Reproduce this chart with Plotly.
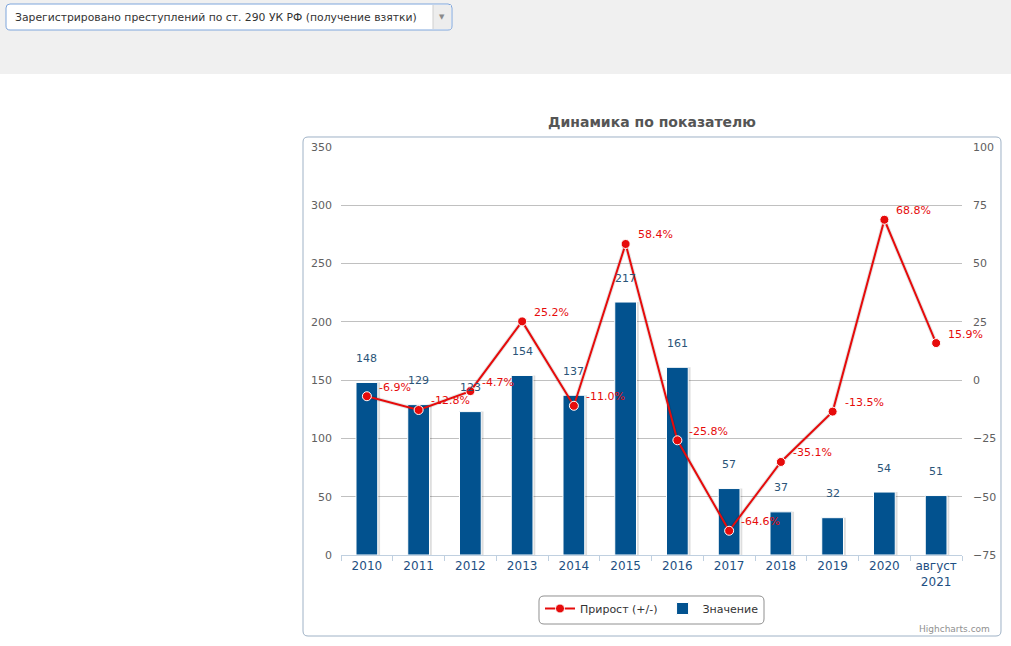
import plotly.graph_objects as go

# ---- data ----
categories = ["2010", "2011", "2012", "2013", "2014", "2015", "2016",
              "2017", "2018", "2019", "2020", "август<br>2021"]
values = [148, 129, 123, 154, 137, 217, 161, 57, 37, 32, 54, 51]
growth = [-6.9, -12.8, -4.7, 25.2, -11.0, 58.4, -25.8, -64.6, -35.1, -13.5, 68.8, 15.9]
left_ticks = [0, 50, 100, 150, 200, 250, 300, 350]
right_ticks = [-75, -50, -25, 0, 25, 50, 75, 100]

W, H = 1011, 646
L, R, T, B = 341, 962, 147, 555

FONT = "DejaVu Sans"
BAR_COLOR = "#02528f"
LINE_COLOR = "#e60b0b"


def px(x):
    return (x - L) / (R - L)


def py(y):
    return (B - y) / (B - T)


def rrect(x0, y0, x1, y1, r):
    pts = [
        ("M", (x0 + r, y0)), ("L", (x1 - r, y0)), ("Q", (x1, y0), (x1, y0 + r)),
        ("L", (x1, y1 - r)), ("Q", (x1, y1), (x1 - r, y1)), ("L", (x0 + r, y1)),
        ("Q", (x0, y1), (x0, y1 - r)), ("L", (x0, y0 + r)), ("Q", (x0, y0), (x0 + r, y0)),
    ]
    s = ""
    for p in pts:
        cmd = p[0]
        coords = " ".join(f"{px(a):.5f},{py(b):.5f}" for a, b in p[1:])
        s += f"{cmd} {coords} "
    return s + "Z"


fig = go.Figure()

BW = 0.42
# shadow of bars
fig.add_trace(go.Bar(
    x=categories, y=values, yaxis="y", width=BW, offset=-BW / 2 + 0.045,
    marker=dict(color="rgba(0,0,0,0.13)", line=dict(width=0)),
    showlegend=False, hoverinfo="skip",
))
fig.add_trace(go.Bar(
    x=categories, y=values, yaxis="y", width=BW, offset=-BW / 2,
    name="Значение", legendrank=2,
    marker=dict(color=BAR_COLOR, line=dict(color="white", width=1)),
))
# soft shadow of the line
fig.add_trace(go.Scatter(
    x=categories, y=growth, yaxis="y2", mode="lines",
    line=dict(color="rgba(0,0,0,0.10)", width=4),
    showlegend=False, hoverinfo="skip",
))
fig.add_trace(go.Scatter(
    x=categories, y=growth, yaxis="y2", mode="lines+markers",
    name="Прирост (+/-)", legendrank=1,
    line=dict(color=LINE_COLOR, width=2),
    marker=dict(color=LINE_COLOR, size=9, line=dict(color="white", width=1)),
))

annotations = []
for i, v in enumerate(values):
    annotations.append(dict(
        x=i, y=v, xref="x", yref="y", text=str(v), showarrow=False,
        yshift=24, yanchor="middle", xanchor="center",
        font=dict(family=FONT, size=11, color="#2b5478"),
    ))
for i, g in enumerate(growth):
    annotations.append(dict(
        x=i, y=g, xref="x", yref="y2", text=f"{g:.1f}%", showarrow=False,
        xshift=10, yshift=9, yanchor="middle", xanchor="left",
        font=dict(family=FONT, size=11, color=LINE_COLOR),
    ))

# page texts
annotations.append(dict(
    x=px(13), y=py(17), xref="paper", yref="paper", showarrow=False,
    text="Зарегистрировано преступлений по ст. 290 УК РФ (получение взятки)",
    xanchor="left", yanchor="middle", font=dict(family=FONT, size=10.8, color="#333333"),
))
annotations.append(dict(
    x=px(442), y=py(17), xref="paper", yref="paper", showarrow=False,
    text="▼", xanchor="center", yanchor="middle",
    font=dict(family=FONT, size=7, color="#8a8a8a"),
))
annotations.append(dict(
    x=px(992), y=py(629), xref="paper", yref="paper", showarrow=False,
    text="Highcharts.com", xanchor="right", yanchor="middle",
    font=dict(family=FONT, size=9, color="#909090"),
))

shapes = [
    dict(type="rect", xref="paper", yref="paper", x0=px(0), x1=px(W), y0=py(74), y1=py(0),
         fillcolor="#f0f0f0", line=dict(width=0), layer="below"),
    dict(type="path", xref="paper", yref="paper", path=rrect(303, 137, 1001, 636, 5),
         fillcolor="rgba(0,0,0,0)", line=dict(color="#9fb2c6", width=1), layer="below"),
    dict(type="path", xref="paper", yref="paper", path=rrect(6, 4, 452, 30, 4),
         fillcolor="white", line=dict(color="#7fa6dc", width=1), layer="below"),
    dict(type="rect", xref="paper", yref="paper", x0=px(433), x1=px(451), y0=py(29), y1=py(5),
         fillcolor="#ededed", line=dict(width=0), layer="below"),
    dict(type="line", xref="paper", yref="paper", x0=px(433), x1=px(433), y0=py(29), y1=py(5),
         line=dict(color="#cfcfcf", width=1), layer="below"),
    # rounded legend frame
    dict(type="path", xref="paper", yref="paper", path=rrect(539, 596, 764, 624, 5),
         fillcolor="rgba(0,0,0,0)", line=dict(color="#909090", width=1), layer="above"),
]

fig.update_layout(
    width=W, height=H,
    margin=dict(l=L, r=W - R, t=T, b=H - B, pad=0),
    paper_bgcolor="white", plot_bgcolor="rgba(0,0,0,0)",
    font=dict(family=FONT, size=11, color="#606060"),
    title=dict(text="<b>Динамика по показателю</b>", x=652 / W, y=1 - 122 / H,
               xanchor="center", yanchor="middle",
               font=dict(family=FONT, size=14, color="#555555")),
    showlegend=True,
    legend=dict(orientation="h", x=px(652), xanchor="center", y=py(594), yanchor="top",
                borderwidth=0, bgcolor="rgba(0,0,0,0)",
                font=dict(family=FONT, size=11, color="#333333")),
    xaxis=dict(type="category", categoryorder="array", categoryarray=categories,
               range=[-0.5, len(categories) - 0.5], autorange=False,
               showgrid=False, showline=True, linecolor="#c0d0e0", linewidth=1,
               ticks="outside", tickson="boundaries", ticklen=5, tickcolor="#c0d0e0",
               tickangle=0,
               tickfont=dict(family=FONT, size=12, color="#1e4f82"), fixedrange=True),
    yaxis=dict(range=[0, 350], tickvals=left_ticks, showgrid=True, gridcolor="#c0c0c0",
               gridwidth=1, zeroline=False, showline=False, ticks="",
               ticklabelstandoff=8,
               tickfont=dict(family=FONT, size=11, color="#606060")),
    yaxis2=dict(range=[-75, 100], tickvals=right_ticks, overlaying="y", side="right",
                showgrid=False, zeroline=False, showline=False, ticks="",
                ticklabelstandoff=10,
                tickfont=dict(family=FONT, size=11, color="#606060")),
    annotations=annotations,
    shapes=shapes,
)

fig.write_html("out.html")
